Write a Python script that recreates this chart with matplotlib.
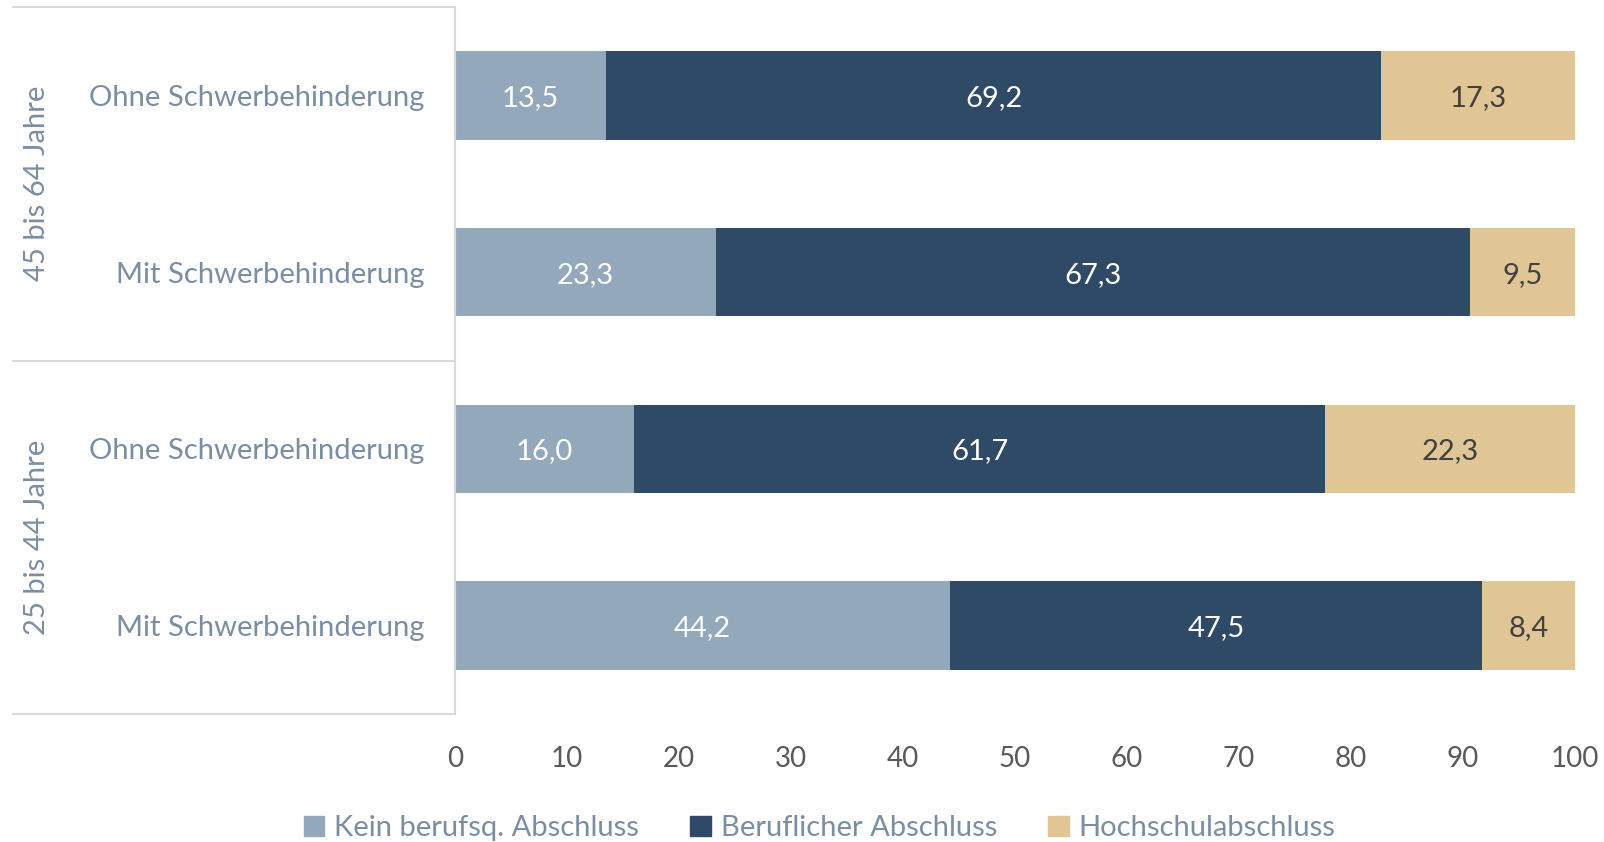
import matplotlib
matplotlib.use("Agg")
import matplotlib.pyplot as plt
from matplotlib.patches import Patch

plt.rcParams['font.family'] = ['Lato', 'DejaVu Sans']

# data, top to bottom
categories = ["Ohne Schwerbehinderung", "Mit Schwerbehinderung",
              "Ohne Schwerbehinderung", "Mit Schwerbehinderung"]
groups = ["45 bis 64 Jahre", "25 bis 44 Jahre"]
series_names = ["Kein berufsq. Abschluss", "Beruflicher Abschluss", "Hochschulabschluss"]
kein = [13.5, 23.3, 16.0, 44.2]
beruf = [69.2, 67.3, 61.7, 47.5]
hochschule = [17.3, 9.5, 22.3, 8.4]
xticks = [0, 10, 20, 30, 40, 50, 60, 70, 80, 90, 100]

colors = ["#94A8BC", "#2E4A66", "#E0C595"]
label_colors = ["white", "white", "#404040"]
cat_color = "#7A8EA3"
tick_color = "#595959"

fig = plt.figure(figsize=(16.04, 8.42), dpi=100)
ax = fig.add_axes([455/1604, 1-714/842, 1120/1604, 707/842])

y = list(range(len(categories)))
left = [0]*len(categories)
for vals, col, lc in zip([kein, beruf, hochschule], colors, label_colors):
    bars = ax.barh(y, vals, left=left, height=0.5, color=col)
    for i, v in enumerate(vals):
        ax.text(left[i] + v/2, y[i] + 0.015, f"{v:.1f}".replace(".", ","),
                ha="center", va="center", color=lc, fontsize=21)
    left = [a + b for a, b in zip(left, vals)]

ax.set_xlim(0, 100)
ax.set_ylim(3.5, -0.5)
ax.set_xticks(xticks)
ax.set_xticklabels([str(t) for t in xticks], fontsize=20, color=tick_color)
ax.set_yticks(y)
ax.set_yticklabels(categories, fontsize=21, color=cat_color)
ax.tick_params(axis="both", length=0)
ax.tick_params(axis="y", pad=22)
ax.tick_params(axis="x", pad=23)
for s in ["top", "right", "bottom"]:
    ax.spines[s].set_visible(False)
ax.spines["left"].set_color("#D9D9D9")
ax.spines["left"].set_linewidth(1.5)

# group separators
tr = ax.get_yaxis_transform()
for yy in [-0.5, 1.5, 3.5]:
    ax.plot([-0.395, 0], [yy, yy], color="#D9D9D9", lw=1.5, transform=tr, clip_on=False)
for g, yy in zip(groups, [0.5, 2.5]):
    ax.text(-0.373, yy, g, transform=tr, rotation=90, ha="center", va="center",
            fontsize=21, color=cat_color)

handles = [Patch(color=c, label=n) for c, n in zip(colors, series_names)]
leg = fig.legend(handles=handles, loc="center", bbox_to_anchor=(0.511, 1-828/842), ncol=3,
                 frameon=False, fontsize=21, handlelength=0.7, handleheight=0.7,
                 handletextpad=0.35, columnspacing=1.75)
for t in leg.get_texts():
    t.set_color(cat_color)

fig.savefig("out.png", dpi=100)
